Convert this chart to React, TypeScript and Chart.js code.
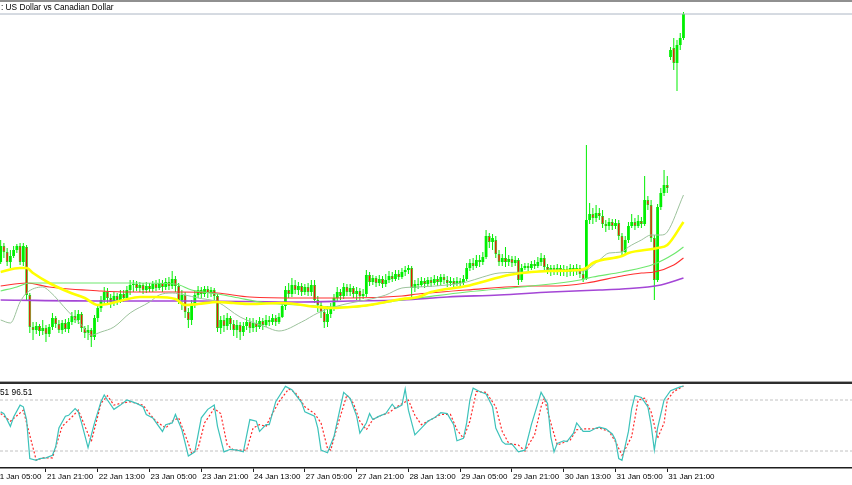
import React, { useEffect, useRef } from 'react';
import { Chart, registerables } from 'chart.js';

Chart.register(...registerables);
Chart.defaults.font.family = 'Liberation Sans';

// Hourly USD/CAD bars. Bar index 0 = 21 Jan 05:00.
// Prices are stored as points above 1.30000 (1 point = 0.00005).
const BASE_PRICE = 1.3;
const POINT = 0.00005;
const FIRST_BAR = 2;

const OPEN = [119,135,129,119,125,131,135,119,134,86,54,51,55,50,53,47,54,63,57,51,58,52,59,65,61,67,53,48,51,44,63,73,81,89,83,79,85,81,87,83,91,
96,97,93,96,91,95,92,97,93,98,94,99,95,102,95,81,86,69,61,76,86,91,87,92,88,91,85,53,61,55,63,57,51,56,49,55,59,53,58,54,60,56,61,59,63,59,64,75,91,87,96,91,95,89,94,89,96,81,76,69,59,67,73,83,89,85,94,89,93,87,90,85,87,106,99,103,98,102,97,101,105,102,107,104,109,111,113,93,
97,96,100,97,101,98,102,99,104,101,98,100,97,100,98,102,113,118,115,121,119,124,145,139,141,127,119,123,119,122,118,121,101,113,115,113,117,115,119,123,114,111,113,110,113,109,112,109,113,110,113,107,102,161,167,163,168,165,157,155,159,155,158,145,129,141,155,159,155,160,157,181,176,143,101,174,188,196,324,333,318,336,343];
const HIGH = [141,138,133,131,135,137,138,138,136,88,59,59,57,61,56,57,68,65,61,61,62,63,69,71,71,69,55,56,53,66,77,85,94,93,87,89,88,91,91,95,101,
101,100,99,98,99,98,100,101,102,101,103,104,110,105,98,91,89,73,81,91,95,94,95,95,94,93,87,65,66,68,65,61,61,59,59,64,63,63,61,64,63,66,65,67,66,68,79,95,98,103,101,99,98,97,98,101,101,85,79,73,75,78,87,94,92,98,97,97,95,94,93,92,111,109,106,105,106,105,107,110,109,111,111,113,115,116,115,101,
103,104,103,104,104,106,105,107,107,105,104,103,104,103,106,118,122,123,126,126,129,151,148,147,145,131,127,134,126,125,125,123,117,118,118,120,121,124,128,126,117,116,116,117,116,116,115,117,116,117,116,111,236,178,173,176,173,171,161,163,162,162,161,148,145,159,167,163,166,164,205,185,181,146,177,193,211,205,334,343,341,348,369];
const LOW = [117,123,115,113,123,128,116,115,81,48,41,47,45,46,39,44,51,53,48,47,49,48,56,58,57,49,43,41,34,41,59,69,77,76,73,75,76,78,79,81,86,
89,90,89,87,88,89,89,90,91,89,91,91,92,89,77,71,63,53,56,73,83,83,84,83,84,81,49,47,49,51,51,45,43,41,45,51,48,49,49,52,51,54,55,56,55,57,63,71,83,84,87,86,85,86,85,85,78,69,63,53,54,63,70,79,81,82,85,85,83,81,80,82,84,95,96,94,95,93,94,98,99,100,101,102,105,107,83,89,
92,94,93,95,94,96,95,96,97,94,95,94,95,94,96,100,110,111,113,114,116,122,133,131,123,115,115,114,115,114,115,96,99,111,110,111,112,113,115,111,107,105,106,106,105,105,104,105,105,106,103,99,101,157,157,159,161,153,149,151,151,152,141,125,126,138,153,151,153,153,155,171,139,81,99,171,185,188,321,311,290,331,341];
const CLOSE = [135,129,119,125,131,135,119,135,86,54,51,55,50,53,47,54,63,57,51,58,52,59,65,61,67,53,48,51,44,63,73,81,89,83,79,85,81,87,83,91,96,
97,93,96,91,95,92,97,93,98,94,99,95,102,95,81,86,69,61,76,86,91,87,92,88,91,85,53,61,55,63,57,51,56,49,55,59,53,58,54,60,56,61,59,63,59,64,75,91,87,96,91,95,89,94,89,96,81,76,69,59,67,73,83,89,85,94,89,93,87,90,85,87,106,99,103,98,102,97,101,105,102,107,104,109,111,113,93,97,
96,100,97,101,98,102,99,104,101,98,100,97,100,98,102,113,118,115,121,119,124,145,139,143,127,119,123,119,122,118,121,101,113,115,113,117,115,119,123,114,111,113,110,113,109,112,109,113,110,113,107,102,161,167,163,168,165,157,155,159,155,158,145,129,141,155,159,155,160,157,181,176,143,101,174,188,196,193,331,318,336,343,367];

// Moving averages (bar index, value in points)
const MA_FAST_BAR = [2,5,8,10,15,17,23,27,30,33,37,42,48,51,55,59,63,69,76,84,88,95,100,105,110,115,121,126,131,140,146,151,156,166,172,182,187,190,194,196,200,203,206,208,213];
const MA_FAST = [61,58,79,88,94,90,69,56,46,49,54,68,79,86,88,86,83,79,64,54,50,59,68,74,78,81,86,93,94,96,99,104,108,109,111,110,121,128,129,134,141,146,146,149,186];
const MA_MID_BAR = [2,8,10,12,17,23,28,32,35,40,45,50,56,59,63,69,74,79,89,100,105,110,116,121,126,131,135,146,153,159,166,172,181,183,185,194,196,205,208,213];
const MA_MID = [109,113,113,108,98,89,83,76,77,81,84,84,82,76,77,79,78,77,78,74,73,74,76,79,82,84,89,95,101,106,109,110,111,113,118,125,128,133,136,159];
const MA_SLOW_BAR = [2,7,11,22,42,56,61,69,74,84,95,105,111,120,126,131,146,166,181,185,194,204,210,213];
const MA_SLOW = [90,94,98,98,98,97,91,87,84,78,76,74,74,78,81,83,89,95,101,104,109,117,127,134];
const MA_LONG_BAR = [2,10,17,33,42,57,69,79,95,110,126,131,146,166,174,183,194,200,204,210,213];
const MA_LONG = [95,98,94,90,89,89,88,84,83,83,85,87,91,95,95,98,105,108,109,116,123];
const MA_TREND_BAR = [2,33,63,95,110,126,140,156,172,187,194,206,213];
const MA_TREND = [81,80,80,79,80,81,84,86,89,91,92,96,103];

// Stochastic oscillator
const STOCH_K_BAR = [2,3,5,6,8,9,10,11,13,14,16,18,19,20,22,23,25,26,27,29,31,33,34,35,37,39,41,44,46,47,49,52,53,55,56,58,60,62,64,66,68,69,71,73,75,77,79,81,82,84,85,87,89,90,92,95,96,99,100,101,103,105,107,108,110,112,113,115,116,117,119,121,123,124,126,127,128,130,132,134,136,138,140,142,143,145,146,147,148,150,152,154,155,157,158,160,162,164,166,168,169,171,172,173,174,176,177,179,180,182,184,186,187,189,191,192,193,194,196,197,198,200,202,203,204,205,207,209,211,212,213];
const STOCH_K = [66,64,49,60,74,72,57,11,9,11,12,15,25,47,61,62,70,66,53,24,53,78,86,80,69,74,80,76,72,63,59,43,51,53,63,45,14,19,59,69,74,49,19,22,21,19,57,55,43,51,51,78,90,96,92,77,66,61,47,21,18,37,72,89,82,61,41,53,64,57,61,64,75,70,74,93,68,39,47,55,59,65,64,51,32,35,53,80,94,90,87,72,47,31,28,28,19,21,51,76,89,76,37,19,29,32,31,41,53,43,43,47,48,46,40,33,11,9,43,70,85,83,72,51,21,47,80,91,94,95.5,96.51];
const STOCH_D_BAR = [2,5,9,13,15,18,21,24,26,30,33,35,37,39,42,46,48,50,53,55,57,60,61,63,65,68,70,72,74,78,80,82,84,85,88,91,93,95,96,99,101,103,104,106,109,111,113,115,117,119,122,124,128,130,132,135,138,141,143,145,147,149,152,155,157,159,162,164,167,169,170,172,174,176,178,180,182,185,187,190,192,194,197,199,201,203,205,207,208,210,213];
const STOCH_D = [64,55,68,9,12,12,49,60,68,31,76,85,74,76,78,74,64,55,47,55,59,29,17,23,53,70,64,27,21,21,47,51,49,57,78,93,89,78,72,64,53,23,21,49,86,76,55,45,57,61,65,71,80,62,51,57,63,63,45,35,55,90,89,72,43,29,27,20,39,72,82,53,27,30,33,45,46,46,47,43,31,15,37,80,82,66,35,53,80,90,96.51];
const STOCH_LEVELS = [20, 80];

const TICK_BARS = [0,16,32,48,64,80,96,112,128,144,160,176,192,208];
const TICK_LABELS = ['21 Jan 05:00','21 Jan 21:00','22 Jan 13:00','23 Jan 05:00','23 Jan 21:00','24 Jan 13:00','27 Jan 05:00','27 Jan 21:00','28 Jan 13:00','29 Jan 05:00','29 Jan 21:00','30 Jan 13:00','31 Jan 05:00','31 Jan 21:00'];

const TITLE = ': US Dollar vs Canadian Dollar';
const STOCH_TEXT = '51 96.51';

// visible window (bar units) and main price window (points)
const X_MIN = 1.7923;
const X_MAX = 265.08;
const P_MAX = 381;

const toPrice = (v: number) => BASE_PRICE + v * POINT;

export default function App() {
  const mainRef = useRef<HTMLCanvasElement | null>(null);
  const oscRef = useRef<HTMLCanvasElement | null>(null);

  useEffect(() => {
    document.body.style.margin = '0';
    const bars = OPEN.map((o, k) => ({ x: FIRST_BAR + k, o, h: HIGH[k], l: LOW[k], c: CLOSE[k] }));
    const bull = bars.map((b) => b.c >= b.o);
    const ma = (xs: number[], ys: number[]) => xs.map((x, k) => ({ x, y: toPrice(ys[k]) }));
    const lastClose = CLOSE[CLOSE.length - 1];

    const lineBase = { type: 'line' as const, pointRadius: 0, fill: false, cubicInterpolationMode: 'monotone' as const };

    const main = new Chart(mainRef.current as HTMLCanvasElement, {
      type: 'bar',
      data: {
        datasets: [
          { ...lineBase, label: 'MA fast', data: ma(MA_FAST_BAR, MA_FAST), borderColor: '#9cc29c', borderWidth: 1, order: 1 },
          { ...lineBase, label: 'MA mid', data: ma(MA_MID_BAR, MA_MID), borderColor: '#ffff00', borderWidth: 2.6, order: 0 },
          { ...lineBase, label: 'MA slow', data: ma(MA_SLOW_BAR, MA_SLOW), borderColor: '#6ee86e', borderWidth: 1.2, order: 2 },
          { ...lineBase, label: 'MA long', data: ma(MA_LONG_BAR, MA_LONG), borderColor: '#ff3030', borderWidth: 1.1, order: 3 },
          { ...lineBase, label: 'MA trend', data: ma(MA_TREND_BAR, MA_TREND), borderColor: '#a446d6', borderWidth: 1.6, order: 4 },
          { type: 'line', label: 'Bid', data: [{ x: X_MIN, y: toPrice(lastClose) }, { x: X_MAX, y: toPrice(lastClose) }], borderColor: '#acb6c4', borderWidth: 1, pointRadius: 0, order: 5 } as any,
          {
            type: 'bar', label: 'Body',
            data: bars.map((b) => ({ x: b.x, y: [toPrice(b.o), toPrice(b.c)] })) as any,
            backgroundColor: bull.map((u) => (u ? '#00f000' : '#e41c00')),
            borderColor: '#00e600',
            borderWidth: bull.map((u) => (u ? 0 : 0.7)) as any,
            borderSkipped: false,
            grouped: false,
            barPercentage: 1,
            categoryPercentage: 1,
            maxBarThickness: 2.8,
            minBarLength: 1,
            inflateAmount: 0,
            order: 7,
          } as any,
          {
            type: 'bar', label: 'Wick',
            data: bars.map((b) => ({ x: b.x, y: [toPrice(b.l), toPrice(b.h)] })) as any,
            backgroundColor: '#00ee00',
            borderWidth: 0,
            grouped: false,
            barPercentage: 1,
            categoryPercentage: 1,
            maxBarThickness: 1,
            inflateAmount: 0,
            order: 8,
          } as any,
        ],
      },
      options: {
        responsive: false,
        animation: false,
        devicePixelRatio: 1,
        events: [],
        layout: { padding: 0 },
        plugins: { legend: { display: false }, tooltip: { enabled: false } },
        scales: {
          x: { type: 'linear', min: X_MIN, max: X_MAX, offset: false, display: false },
          y: { type: 'linear', min: toPrice(0), max: toPrice(P_MAX), display: false },
        },
      },
    });

    const osc = new Chart(oscRef.current as HTMLCanvasElement, {
      type: 'line',
      data: {
        datasets: [
          { label: 'Main', data: STOCH_K_BAR.map((x, k) => ({ x, y: STOCH_K[k] })), borderColor: '#3cc2ba', borderWidth: 1.2, pointRadius: 0, tension: 0, order: 1 },
          { label: 'Signal', data: STOCH_D_BAR.map((x, k) => ({ x, y: STOCH_D[k] })), borderColor: '#ff2a2a', borderWidth: 1.2, borderDash: [2, 2], pointRadius: 0, tension: 0, order: 2 },
          ...STOCH_LEVELS.map((lv) => ({
            label: 'Level ' + lv,
            data: [{ x: X_MIN, y: lv }, { x: X_MAX, y: lv }],
            borderColor: '#c2c2c2', borderWidth: 1, borderDash: [3, 2], pointRadius: 0, order: 3,
          })),
        ],
      },
      options: {
        responsive: false,
        animation: false,
        devicePixelRatio: 1,
        events: [],
        layout: { padding: 0 },
        plugins: { legend: { display: false }, tooltip: { enabled: false } },
        scales: {
          x: {
            type: 'linear', min: X_MIN, max: X_MAX, offset: false, position: 'bottom',
            afterBuildTicks: (s: any) => { s.ticks = TICK_BARS.map((v) => ({ value: v })); },
            afterFit: (s: any) => { s.height = 17; s.paddingLeft = 0; s.paddingRight = 0; },
            border: { display: true, color: '#1e1e1e', width: 1.5 },
            grid: { drawOnChartArea: false, drawTicks: true, tickLength: 4, color: '#1e1e1e', tickColor: '#1e1e1e', lineWidth: 1 },
            ticks: {
              autoSkip: false, maxRotation: 0, minRotation: 0, align: 'start', padding: 0, labelOffset: 1,
              color: '#000', font: { family: 'Liberation Sans', size: 8 },
              callback: (v: any) => { const k = TICK_BARS.indexOf(Number(v)); return k >= 0 ? TICK_LABELS[k] : ''; },
            },
          } as any,
          y: { type: 'linear', min: 0, max: 100, display: false },
        },
      },
    });

    return () => { main.destroy(); osc.destroy(); };
  }, []);

  const text: React.CSSProperties = { position: 'absolute', fontFamily: 'Liberation Sans', fontSize: 8.3, lineHeight: '10px', color: '#000', whiteSpace: 'nowrap', zIndex: 2 };

  return (
    <div style={{ position: 'fixed', left: 0, top: 0, width: 852, height: 485, background: '#fff', overflow: 'hidden' }}>
      <canvas ref={mainRef} width={852} height={381} style={{ position: 'absolute', left: 0, top: 0, display: 'block' }} />
      <canvas ref={oscRef} width={852} height={102} style={{ position: 'absolute', left: 0, top: 383, display: 'block' }} />
      <div style={{ position: 'absolute', left: 0, top: 0, width: 852, height: 2, background: '#909090', zIndex: 2 }} />
      <div style={{ position: 'absolute', left: 0, top: 381, width: 852, height: 1, background: '#a9a9a9', zIndex: 2 }} />
      <div style={{ position: 'absolute', left: 0, top: 382, width: 852, height: 2, background: '#2e2e2e', zIndex: 2 }} />
      <div style={{ ...text, left: 1, top: 2 }}>{TITLE}</div>
      <div style={{ ...text, left: 0, top: 387 }}>{STOCH_TEXT}</div>
    </div>
  );
}
